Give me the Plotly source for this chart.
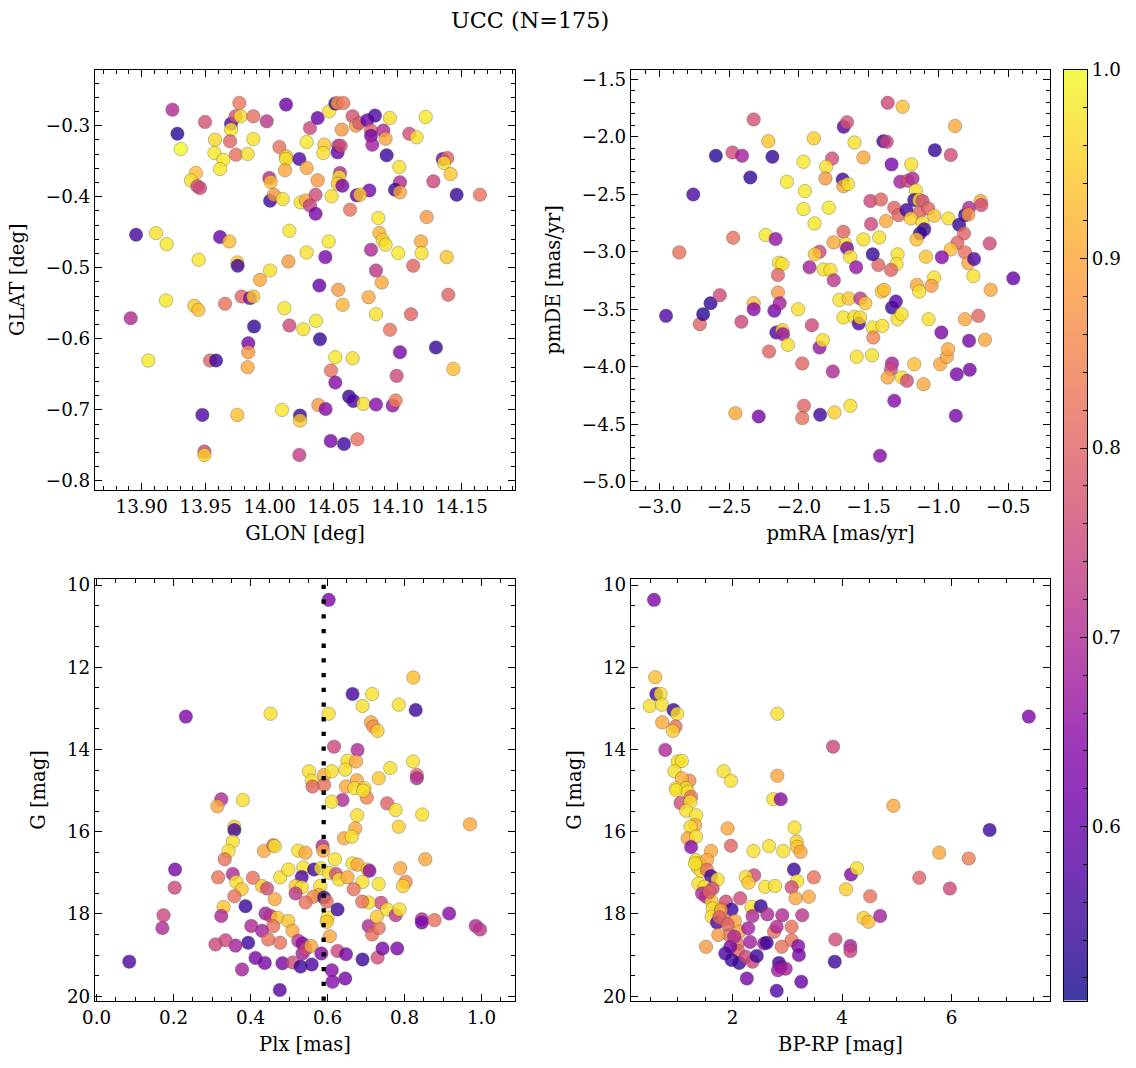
import plotly.graph_objects as go

# ---------------- data ----------------
# Panel 1: GLON / GLAT
glon = [13.9240,13.9279,13.9495,13.9305,13.9763,13.9698,13.9734,13.9773,13.9698,13.9872,13.9977,14.0128,
        13.9573,13.9690,13.9568,13.9638,13.9612,13.9737,13.9828,13.9872,13.9424,13.9385,13.9435,13.9456,
        13.9997,14.0008,14.0076,14.0128,14.0128,14.0120,14.0232,14.0289,14.0289,14.0315,14.0375,14.0466,
        14.0513,14.0531,14.0576,14.0427,14.0419,14.0536,14.0531,14.0555,14.0563,14.0375,14.0549,14.0544,
        14.0531,14.0568,14.0648,14.0674,14.0700,14.0763,14.0823,14.0940,14.0792,14.0792,14.0888,14.0906,
        14.0802,14.0914,14.1091,14.1148,14.1219,14.1013,14.1018,14.0979,14.1018,14.0779,14.0680,14.0706,
        14.1279,14.1352,14.1388,14.1362,14.1414,14.1461,14.1643,14.0003,14.0034,14.0102,14.0242,14.0284,
        14.0359,14.0315,14.0359,14.0484,14.0628,14.0849,14.1227,13.8956,13.9112,13.9195,13.9612,13.9685,
        14.0154,14.0461,14.0857,14.0883,14.0906,14.0792,14.1005,14.1182,14.1187,14.1383,14.0289,14.0435,
        13.9445,13.9747,13.9750,14.0146,14.0003,14.0831,14.1122,13.9924,14.0388,14.0536,14.0875,14.1396,
        13.9190,13.9411,13.9443,13.9651,13.9781,13.9846,13.9872,14.0570,14.0773,14.0115,13.8914,14.0154,
        14.0263,14.0362,14.0831,14.1104,14.0940,13.9878,13.9833,13.9833,13.9828,14.0393,13.9052,13.9534,
        13.9581,14.0513,14.0648,14.0479,14.1018,14.1299,14.1435,14.0992,14.0513,14.0620,14.0654,14.0732,
        14.0831,14.0961,14.0984,14.0380,14.0437,13.9474,13.9747,14.0096,14.0237,14.0237,14.0477,14.0581,
        14.0685,13.9490,13.9490,14.0232]
glat = [-0.2775,-0.3113,-0.2948,-0.3329,-0.2681,-0.2972,-0.2869,-0.2869,-0.3056,-0.2869,-0.2939,-0.2704,
        -0.3197,-0.3221,-0.3385,-0.3479,-0.3610,-0.3408,-0.3399,-0.3188,-0.3667,-0.3770,-0.3854,-0.3878,
        -0.3737,-0.3793,-0.3300,-0.3432,-0.3469,-0.3629,-0.3469,-0.3596,-0.3230,-0.3033,-0.2892,-0.2798,
        -0.2690,-0.2681,-0.2681,-0.3268,-0.3385,-0.3282,-0.3376,-0.3282,-0.3056,-0.3770,-0.3667,-0.3723,
        -0.3817,-0.3845,-0.2869,-0.3000,-0.2962,-0.2925,-0.2859,-0.2892,-0.3070,-0.3141,-0.3070,-0.3183,
        -0.3268,-0.3418,-0.3113,-0.3164,-0.2878,-0.3582,-0.3798,-0.3901,-0.3939,-0.3911,-0.3981,-0.3972,
        -0.3784,-0.3469,-0.3455,-0.3526,-0.3681,-0.3972,-0.3972,-0.4056,-0.3972,-0.4033,-0.4080,-0.4052,
        -0.3972,-0.4122,-0.4239,-0.3995,-0.4183,-0.4300,-0.4286,-0.4535,-0.4512,-0.4667,-0.4568,-0.4629,
        -0.4479,-0.4629,-0.4512,-0.4606,-0.4676,-0.4746,-0.4793,-0.4629,-0.4793,-0.4850,-0.4784,-0.4850,
        -0.4887,-0.4925,-0.4972,-0.4911,-0.5038,-0.5038,-0.4972,-0.5169,-0.5249,-0.5310,-0.5207,-0.5380,
        -0.5460,-0.5535,-0.5592,-0.5507,-0.5404,-0.5427,-0.5404,-0.5521,-0.5413,-0.5568,-0.5709,-0.5812,
        -0.5864,-0.5746,-0.5653,-0.5653,-0.5873,-0.5826,-0.6061,-0.6188,-0.6399,-0.6005,-0.6305,-0.6305,
        -0.6305,-0.6258,-0.6272,-0.6446,-0.6188,-0.6122,-0.6423,-0.6521,-0.6615,-0.6812,-0.6873,-0.6915,
        -0.6925,-0.6939,-0.6869,-0.6930,-0.6986,-0.7070,-0.7070,-0.7000,-0.7080,-0.7150,-0.7437,-0.7479,
        -0.7413,-0.7587,-0.7634,-0.7634]
prob_pos = [0.70,0.53,0.77,1.00,0.83,0.57,0.77,0.97,0.98,0.82,0.72,0.60,
            0.96,0.80,0.98,0.98,0.98,0.82,0.97,0.97,0.93,0.97,0.77,0.75,
            0.70,0.93,0.82,0.93,0.97,0.90,0.57,0.90,0.98,0.75,0.60,0.97,
            0.55,0.88,0.83,0.94,0.97,0.72,0.60,0.76,0.88,0.88,0.70,0.97,
            0.94,0.62,0.77,0.88,0.78,0.60,0.57,0.97,0.80,0.62,0.70,0.90,
            0.68,0.55,0.76,0.97,0.98,0.97,0.70,0.55,0.90,0.62,0.60,0.94,
            0.75,0.62,0.80,0.97,0.94,0.54,0.82,0.55,0.88,0.97,0.97,0.90,
            0.76,0.74,0.62,0.97,0.82,0.98,0.88,0.56,0.97,0.98,0.60,0.93,
            0.98,0.98,0.92,0.95,0.97,0.70,0.98,0.90,0.97,0.94,0.97,0.62,
            0.98,0.95,0.55,0.88,0.97,0.72,0.80,0.90,0.60,0.88,0.90,0.80,
            0.98,0.95,0.93,0.82,0.80,0.62,0.94,0.92,0.90,0.98,0.70,0.75,
            0.97,0.98,0.97,0.80,0.82,0.54,0.62,0.88,0.90,0.54,0.98,0.80,
            0.55,0.98,0.97,0.82,0.62,0.54,0.93,0.75,0.64,0.55,0.57,0.97,
            0.64,0.66,0.84,0.88,0.64,0.57,0.93,0.98,0.54,0.94,0.62,0.55,
            0.82,0.75,0.95,0.73]

# Panel 2: pmRA / pmDE
pmra = [-2.857,-2.757,-2.595,-2.476,-2.407,-2.348,-2.324,-2.471,-2.238,-2.167,-2.190,-2.219,-2.086,-1.967,
        -1.957,-1.967,-1.888,-1.786,-1.893,-1.762,-1.805,-1.810,-1.686,-1.681,-1.648,-1.679,-1.655,-1.602,
        -1.538,-1.364,-1.257,-1.395,-1.371,-1.336,-1.274,-1.221,-1.186,-1.195,-1.162,-1.174,-1.138,-1.114,
        -1.026,-0.912,-0.881,-1.488,-1.412,-1.317,-1.286,-1.229,-1.138,-1.074,-1.031,-1.198,-1.114,-1.102,
        -1.133,-1.157,-0.929,-0.852,-0.810,-0.781,-0.786,-0.698,-0.693,-0.817,-0.864,-0.912,-0.810,-0.786,
        -0.745,-0.633,-0.976,-1.090,-1.293,-1.300,-1.340,-1.431,-1.471,-1.483,-1.376,-1.424,-1.538,-1.681,
        -1.667,-1.655,-1.633,-1.590,-1.752,-1.852,-1.886,-1.924,-1.824,-1.774,-2.143,-2.119,-2.150,-0.464,
        -0.750,-1.031,-1.750,-1.155,-1.138,-1.050,-0.626,-2.952,-2.710,-2.686,-2.633,-2.567,-2.412,-2.324,
        -2.324,-2.176,-2.150,-2.138,-2.162,-2.119,-2.114,-2.079,-2.214,-2.005,-1.907,-1.852,-1.829,-1.976,
        -1.757,-1.710,-1.643,-1.560,-1.524,-1.681,-1.602,-1.571,-1.562,-1.586,-1.476,-1.471,-1.467,-1.402,
        -1.407,-1.390,-1.333,-1.305,-1.293,-1.264,-1.333,-1.340,-1.364,-1.262,-1.226,-1.174,-1.107,-1.317,
        -1.071,-0.979,-0.988,-0.940,-0.931,-0.869,-0.776,-0.781,-0.810,-0.714,-0.667,-0.876,-1.419,-1.631,
        -1.745,-1.848,-1.964,-1.976,-2.288,-2.455]
pmde = [-3.006,-2.502,-2.166,-2.137,-2.166,-2.354,-1.850,-2.879,-2.855,-2.890,-2.175,-2.039,-2.392,-2.218,
        -2.473,-2.629,-2.754,-2.618,-2.015,-2.189,-2.262,-2.363,-2.372,-2.430,-2.412,-1.914,-1.874,-2.050,
        -2.181,-1.706,-1.740,-2.039,-2.044,-2.241,-2.392,-2.383,-2.363,-2.241,-2.468,-2.551,-2.551,-2.560,
        -2.117,-2.160,-1.908,-2.560,-2.546,-2.618,-2.682,-2.638,-2.661,-2.624,-2.687,-2.711,-2.748,-2.806,
        -2.841,-2.893,-2.711,-2.766,-2.682,-2.618,-2.676,-2.560,-2.595,-2.841,-2.922,-2.980,-3.006,-3.101,
        -3.064,-2.928,-3.049,-3.044,-3.023,-3.107,-3.159,-3.116,-3.023,-2.760,-2.734,-2.876,-2.893,-2.826,
        -2.934,-2.971,-3.044,-3.136,-2.919,-3.000,-3.023,-3.136,-3.154,-3.159,-3.096,-3.107,-3.203,-3.232,
        -3.212,-3.224,-3.248,-3.289,-3.347,-3.297,-3.332,-3.558,-3.630,-3.543,-3.448,-3.378,-3.610,-3.448,
        -3.500,-3.514,-3.355,-3.448,-3.703,-3.682,-3.717,-3.810,-3.868,-3.500,-3.639,-3.833,-3.769,-3.972,
        -4.042,-3.419,-3.407,-3.407,-3.448,-3.572,-3.567,-3.625,-3.572,-3.914,-3.900,-3.659,-3.746,-3.645,
        -3.347,-3.332,-3.486,-3.433,-3.587,-3.543,-3.972,-4.021,-4.094,-4.094,-4.123,-3.978,-4.152,-4.296,
        -3.587,-3.703,-3.978,-3.914,-3.848,-4.065,-4.027,-3.775,-3.587,-3.558,-3.766,-4.427,-4.774,-4.340,
        -4.398,-4.418,-4.340,-4.447,-4.433,-4.404]
prob_pm = [0.82,0.57,0.53,0.76,0.68,0.54,0.77,0.82,0.98,0.66,0.54,0.94,0.98,0.98,
           0.98,0.98,0.98,0.98,0.95,0.76,0.97,0.88,0.55,0.90,0.97,0.58,0.77,0.97,
           0.90,0.75,0.93,0.55,0.74,0.62,0.68,0.76,0.70,0.97,0.97,0.55,0.97,0.76,
           0.54,0.76,0.90,0.75,0.80,0.80,0.80,0.56,0.80,0.80,0.94,0.95,0.97,0.55,
           0.54,0.93,0.97,0.54,0.55,0.70,0.88,0.90,0.76,0.80,0.80,0.93,0.82,0.90,
           0.57,0.75,0.64,0.94,0.97,0.97,0.80,0.80,0.54,0.75,0.90,0.97,0.97,0.80,
           0.98,0.64,0.97,0.66,0.90,0.75,0.94,0.68,0.97,0.97,0.97,0.97,0.80,0.60,
           0.97,0.97,0.72,0.90,0.97,0.88,0.90,0.57,0.80,0.53,0.54,0.76,0.75,0.93,
           0.64,0.62,0.88,0.68,0.57,0.94,0.66,0.97,0.80,0.97,0.75,0.66,0.97,0.80,
           0.70,0.97,0.94,0.72,0.94,0.97,0.97,0.57,0.96,0.97,0.97,0.97,0.85,0.97,
           0.95,0.93,0.55,0.58,0.97,0.97,0.68,0.75,0.90,0.97,0.76,0.93,0.90,0.64,
           0.97,0.62,0.90,0.90,0.90,0.62,0.62,0.62,0.90,0.80,0.90,0.62,0.64,0.97,
           0.95,0.55,0.80,0.82,0.62,0.90]

# Panel 3: Plx / G
plx = [0.603,0.232,0.452,0.603,0.665,0.716,0.691,0.785,0.829,0.823,0.713,0.719,0.730,0.617,0.678,0.552,
       0.559,0.591,0.591,0.611,0.652,0.674,0.646,0.676,0.733,0.763,0.822,0.832,0.832,0.648,0.670,0.696,
       0.561,0.702,0.693,0.639,0.611,0.324,0.314,0.380,0.755,0.777,0.846,0.970,0.677,0.672,0.785,0.358,
       0.358,0.354,0.643,0.663,0.343,0.333,0.435,0.459,0.463,0.524,0.543,0.587,0.589,0.619,0.665,0.678,
       0.704,0.709,0.854,0.789,0.204,0.203,0.316,0.354,0.363,0.377,0.406,0.477,0.498,0.537,0.565,0.583,
       0.604,0.622,0.630,0.652,0.691,0.733,0.803,0.796,0.668,0.533,0.430,0.443,0.517,0.533,0.517,0.581,
       0.578,0.563,0.591,0.598,0.543,0.463,0.358,0.330,0.324,0.387,0.439,0.452,0.470,0.498,0.509,0.459,
       0.402,0.430,0.446,0.394,0.361,0.335,0.309,0.174,0.171,0.085,0.413,0.437,0.378,0.476,0.483,0.510,
       0.530,0.559,0.535,0.477,0.524,0.535,0.543,0.557,0.584,0.606,0.600,0.598,0.626,0.611,0.613,0.646,
       0.626,0.648,0.691,0.730,0.743,0.781,0.707,0.716,0.733,0.728,0.739,0.755,0.707,0.690,0.777,0.787,
       0.845,0.845,0.878,0.916,0.985,0.996]
gmag_plx = [10.36,13.20,13.13,13.13,12.65,12.65,12.94,12.91,13.04,12.25,13.34,13.44,13.55,13.93,14.01,14.53,
            14.76,14.62,14.86,14.53,14.27,14.29,14.49,14.75,14.70,14.45,14.29,14.62,14.70,14.90,14.94,14.94,
            14.90,15.17,15.00,15.23,15.27,15.21,15.38,15.23,15.31,15.47,15.58,15.82,15.60,15.92,15.88,15.88,
            15.96,16.24,16.16,16.12,16.47,16.67,16.47,16.33,16.35,16.46,16.51,16.35,16.46,16.67,16.77,16.80,
            16.92,16.95,16.67,16.89,16.92,17.36,17.11,17.03,17.22,17.40,17.12,17.11,16.92,16.87,16.92,16.89,
            17.00,17.03,17.16,17.11,17.22,17.27,17.22,17.32,17.40,17.10,17.32,17.38,17.32,17.35,17.50,17.32,
            17.54,17.58,17.60,17.70,17.72,17.64,17.57,17.83,18.05,17.81,17.99,18.05,18.09,18.17,18.41,18.30,
            18.29,18.41,18.62,18.70,18.77,18.64,18.74,18.03,18.34,19.16,19.07,19.19,19.35,19.85,19.20,19.18,
            19.28,19.23,18.96,18.70,18.65,18.72,18.86,18.78,18.96,18.54,18.09,18.19,17.89,19.37,19.65,19.57,
            18.90,18.98,19.11,19.06,18.84,18.84,18.29,18.50,18.34,18.07,17.73,17.89,17.72,17.70,18.03,17.89,
            18.13,18.21,18.15,17.99,18.29,18.38]
prob_plx = [0.63,0.63,0.97,0.97,0.56,0.97,0.97,0.97,0.55,0.93,0.90,0.86,0.95,0.75,0.70,0.97,
            0.97,0.90,0.82,0.97,0.97,0.90,0.97,0.90,0.94,0.97,0.97,0.80,0.70,0.90,0.97,0.97,
            0.80,0.85,0.97,0.70,0.97,0.70,0.90,0.97,0.80,0.97,0.97,0.90,0.97,0.90,0.95,0.95,
            0.55,0.97,0.90,0.97,0.97,0.82,0.90,0.82,0.97,0.97,0.90,0.70,0.90,0.97,0.97,0.90,
            0.95,0.64,0.90,0.90,0.62,0.75,0.82,0.70,0.97,0.94,0.82,0.97,0.97,0.97,0.55,0.97,
            0.97,0.76,0.97,0.90,0.97,0.97,0.86,0.95,0.82,0.57,0.94,0.76,0.94,0.97,0.72,0.97,
            0.90,0.86,0.55,0.82,0.82,0.90,0.82,0.94,0.70,0.54,0.68,0.72,0.94,0.94,0.90,0.82,
            0.70,0.68,0.82,0.55,0.68,0.75,0.75,0.75,0.70,0.57,0.62,0.62,0.68,0.58,0.62,0.76,
            0.55,0.57,0.68,0.82,0.72,0.64,0.75,0.90,0.64,0.90,0.97,0.94,0.55,0.64,0.64,0.62,
            0.75,0.62,0.55,0.76,0.62,0.62,0.70,0.82,0.82,0.94,0.75,0.97,0.97,0.82,0.72,0.97,
            0.70,0.62,0.82,0.64,0.70,0.72]
plx_cut = 0.59

# Panel 4: BP-RP / G
bprp = [0.564,7.412,0.588,0.606,0.685,0.485,0.709,0.921,0.988,2.818,0.715,0.958,0.909,0.770,3.836,1.000,
        1.073,0.939,1.212,1.073,1.836,1.970,2.818,0.970,1.152,0.970,1.182,1.242,1.048,1.230,1.152,1.333,
        1.315,1.230,1.182,1.333,1.242,1.909,1.970,2.745,2.879,4.939,6.697,3.133,3.170,3.182,3.242,2.667,
        2.927,2.382,1.606,1.333,1.394,1.533,1.364,1.424,1.533,1.606,1.727,1.376,1.485,1.636,1.442,1.515,
        1.618,1.636,1.800,1.618,1.715,1.879,1.982,1.848,2.042,2.121,1.939,1.739,1.515,2.091,2.103,1.958,
        1.867,1.982,2.121,2.242,2.364,2.442,2.261,2.139,2.394,2.242,2.291,2.594,2.776,2.345,2.515,2.364,
        2.636,2.909,3.273,3.121,3.182,3.079,3.152,3.394,3.485,2.285,2.321,2.576,2.758,2.806,3.079,3.079,
        3.200,3.212,2.897,2.848,2.879,2.970,2.830,2.806,3.255,2.624,3.879,4.152,4.152,3.867,4.394,4.485,
        4.697,4.515,4.073,4.164,4.273,5.412,5.776,5.970,6.315,1.315,1.788,1.758,1.576,1.909,2.030]
gmag_col = [10.36,13.20,12.24,12.65,12.65,12.94,12.91,13.04,13.13,13.13,13.34,13.44,13.55,14.01,13.93,14.29,
            14.28,14.53,14.76,14.70,14.53,14.76,14.64,14.94,14.94,14.99,15.03,15.15,15.30,15.27,15.49,15.60,
            15.84,15.88,16.16,16.12,16.37,15.92,16.34,15.21,15.21,15.37,15.96,15.90,16.24,16.37,16.49,16.35,
            16.47,16.47,16.47,16.69,16.77,16.69,16.87,16.95,16.93,17.08,17.16,17.26,17.34,17.38,17.50,17.58,
            17.70,17.87,17.87,18.07,18.21,17.70,17.89,18.13,18.17,18.43,18.51,18.51,18.80,18.72,18.90,18.80,
            18.96,19.12,19.19,19.04,19.16,19.02,19.57,17.62,17.06,17.10,17.24,17.34,17.32,17.83,17.81,18.05,
            18.01,18.03,18.03,16.92,17.20,17.35,17.62,17.58,17.11,18.35,18.68,18.72,18.43,18.31,18.31,18.64,
            18.78,19.00,18.80,19.19,19.29,19.33,19.37,19.87,19.65,18.70,18.62,18.78,18.90,19.16,18.10,18.19,
            18.05,17.57,17.40,17.04,16.89,17.12,16.51,17.38,16.65,16.77,17.91,18.08,17.46,18.25,18.55]
prob_col = [0.63,0.63,0.93,0.56,0.97,0.97,0.97,0.55,0.97,0.97,0.90,0.82,0.95,0.70,0.75,0.97,
            0.97,0.97,0.86,0.92,0.97,0.97,0.90,0.97,0.97,0.97,0.97,0.82,0.76,0.97,0.97,0.97,
            0.90,0.97,0.90,0.97,0.64,0.90,0.80,0.97,0.64,0.90,0.55,0.97,0.95,0.94,0.90,0.97,
            0.97,0.97,0.90,0.97,0.97,0.90,0.97,0.97,0.82,0.55,0.97,0.97,0.97,0.76,0.70,0.70,
            0.94,0.97,0.97,0.97,0.57,0.76,0.55,0.82,0.90,0.90,0.82,0.88,0.88,0.82,0.80,0.62,
            0.57,0.55,0.55,0.75,0.75,0.55,0.62,0.76,0.76,0.97,0.94,0.97,0.97,0.97,0.54,0.70,
            0.70,0.70,0.72,0.55,0.97,0.76,0.90,0.90,0.82,0.68,0.68,0.66,0.82,0.70,0.82,0.82,
            0.64,0.62,0.82,0.55,0.62,0.68,0.68,0.57,0.60,0.55,0.76,0.68,0.74,0.55,0.95,0.93,
            0.68,0.82,0.95,0.64,0.97,0.80,0.90,0.75,0.84,0.97,0.88,0.80,0.80,0.80,0.70]

title_text = "UCC (N=175)"
prob_min, prob_max = 0.508, 1.0

# ---------------- styling ----------------
plasma_hex = ["#0d0887", "#2a0593", "#41049d", "#5601a4", "#6a00a8", "#7e03a8", "#8f0da4", "#a11b9b",
              "#b12a90", "#bf3984", "#cc4778", "#d6556d", "#e16462", "#ea7457", "#f2844b", "#f89540",
              "#fca636", "#feb72d", "#fcce25", "#f7e225", "#f0f921"]
alpha = 0.8


def rgb_of(h):
    h = h.lstrip("#")
    return int(h[0:2], 16), int(h[2:4], 16), int(h[4:6], 16)


n = len(plasma_hex)
# translucent scale for markers (overlaps darken like the reference)
cscale_markers = [[i / (n - 1), "rgba(%d,%d,%d,%.2f)" % (*rgb_of(c), alpha)] for i, c in enumerate(plasma_hex)]
# same colours pre-blended on white for the colour bar
cscale_bar = []
for i, c in enumerate(plasma_hex):
    r, g, b = rgb_of(c)
    cscale_bar.append([i / (n - 1), "rgb(%d,%d,%d)" % (round(alpha * r + (1 - alpha) * 255),
                                                        round(alpha * g + (1 - alpha) * 255),
                                                        round(alpha * b + (1 - alpha) * 255))])

FONT = "DejaVu Serif"
TICK_SIZE = 18.3
LABEL_SIZE = 19.5
fig = go.Figure()

panels = [
    (glon, glat, prob_pos, "x", "y"),
    (pmra, pmde, prob_pm, "x2", "y2"),
    (plx, gmag_plx, prob_plx, "x3", "y3"),
    (bprp, gmag_col, prob_col, "x4", "y4"),
]
for xs, ys, cs, xa, ya in panels:
    fig.add_trace(go.Scatter(
        x=xs, y=ys, mode="markers", xaxis=xa, yaxis=ya, showlegend=False,
        marker=dict(size=13.5, color=cs, coloraxis="coloraxis",
                    line=dict(width=0.6, color="rgba(70,70,70,0.55)")),
        hoverinfo="skip"))

# colour bar drawn as a heatmap strip on its own axis (allows minor ticks)
nsteps = 300
cb_vals = [prob_min + (prob_max - prob_min) * (k + 0.5) / nsteps for k in range(nsteps)]
fig.add_trace(go.Heatmap(x=[0], y=cb_vals, z=[[v] for v in cb_vals], xaxis="x5", yaxis="y5",
                         colorscale=cscale_bar, zmin=prob_min, zmax=prob_max, showscale=False,
                         hoverinfo="skip"))

fig.add_shape(type="line", xref="x3", yref="y3 domain", x0=plx_cut, x1=plx_cut, y0=0, y1=1,
              line=dict(color="black", width=4.3, dash="4.3px,10.4px"))

xd1 = [95 / 1136, 515 / 1136]
xd2 = [631 / 1136, 1050 / 1136]
yd1 = [1 - 490 / 1068, 1 - 69.5 / 1068]
yd2 = [1 - 1000.7 / 1068, 1 - 579.3 / 1068]


def ax(domain, rng, dtick, minor, fmt, title, anchor, tick0=None, standoff=10):
    d = dict(domain=domain, range=rng, dtick=dtick, tickformat=fmt, anchor=anchor, automargin=False,
             showgrid=False, zeroline=False, showline=True, linecolor="black", linewidth=1.2,
             mirror="allticks", ticks="inside", ticklen=7, tickwidth=1, tickcolor="black",
             tickfont=dict(family=FONT, size=TICK_SIZE, color="black"),
             minor=dict(ticks="inside", ticklen=4, tickwidth=1, tickcolor="black", dtick=minor,
                        showgrid=False),
             title=dict(text=title, font=dict(family=FONT, size=LABEL_SIZE, color="black"), standoff=standoff))
    if tick0 is not None:
        d["tick0"] = tick0
        d["minor"]["tick0"] = tick0
    return d


cb_y = ax([yd2[0], yd1[1]], [prob_min, prob_max], 0.1, 0.02, ".1f", "", "x5", tick0=0.6)
cb_y.update(side="right", mirror=True)
cb_y.pop("title")

YSO = 16  # y-axis title standoff

fig.update_layout(
    width=1136, height=1068, margin=dict(l=0, r=0, t=0, b=0),
    paper_bgcolor="white", plot_bgcolor="white",
    font=dict(family=FONT, color="black"),
    xaxis=ax(xd1, [13.8635, 14.1917], 0.05, 0.01, ".2f", "GLON [deg]", "y", tick0=13.9),
    yaxis=ax(yd1, [-0.8127, -0.221], 0.1, 0.02, ".1f", "GLAT [deg]", "x", tick0=-0.8, standoff=YSO),
    xaxis2=ax(xd2, [-3.203, -0.201], 0.5, 0.1, ".1f", "pmRA [mas/yr]", "y2", tick0=-3.0),
    yaxis2=ax(yd1, [-5.072, -1.416], 0.5, 0.1, ".1f", "pmDE [mas/yr]", "x2", tick0=-5.0, standoff=YSO),
    xaxis3=ax(xd1, [-0.004, 1.087], 0.2, 0.05, ".1f", "Plx [mas]", "y3", tick0=0),
    yaxis3=ax(yd2, [20.11, 9.86], 2, 0.5, "d", "G [mag]", "x3", tick0=10, standoff=YSO),
    xaxis4=ax(xd2, [0.144, 7.80], 2, 0.5, "d", "BP-RP [mag]", "y4", tick0=0),
    yaxis4=ax(yd2, [20.11, 9.86], 2, 0.5, "d", "G [mag]", "x4", tick0=10, standoff=YSO),
    xaxis5=dict(domain=[1064 / 1136, 1087 / 1136], anchor="y5", range=[-0.5, 0.5], automargin=False,
                showticklabels=False, ticks="", showgrid=False, zeroline=False,
                showline=True, linecolor="black", linewidth=1.2, mirror=True),
    yaxis5=cb_y,
    coloraxis=dict(cmin=prob_min, cmax=prob_max, colorscale=cscale_markers, showscale=False),
    annotations=[dict(text=title_text, x=530 / 1136, y=1 - 20 / 1068, xref="paper", yref="paper",
                      showarrow=False, xanchor="center", yanchor="middle",
                      font=dict(family=FONT, size=22.3, color="black"))],
)

fig.write_html("out.html")
